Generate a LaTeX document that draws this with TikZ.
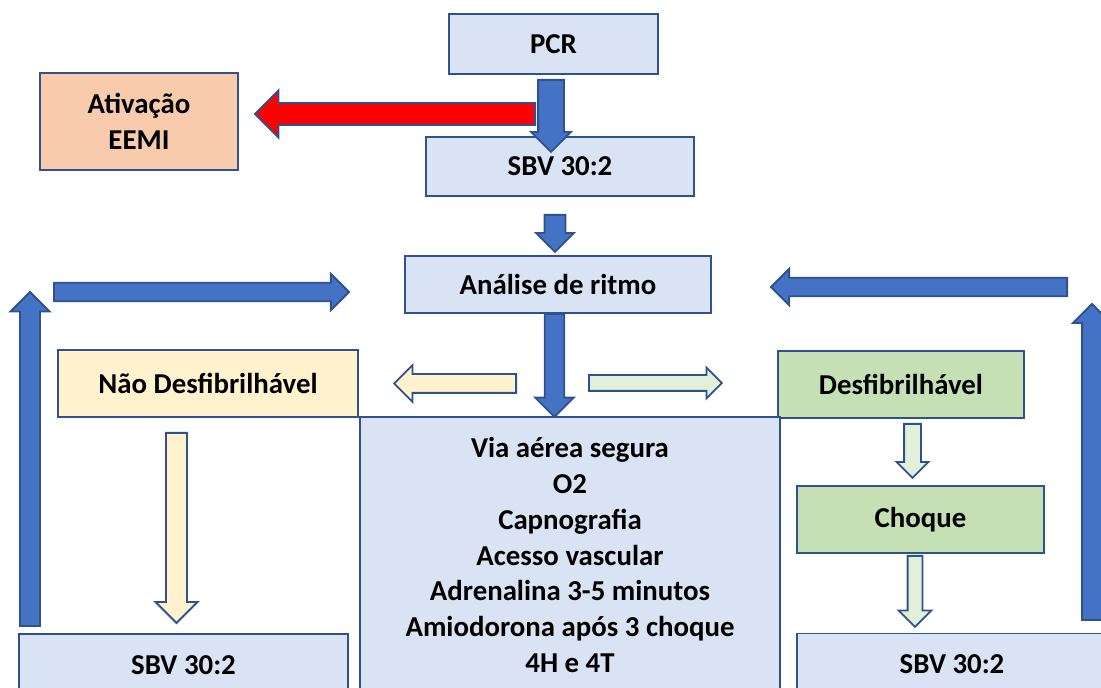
\documentclass[tikz,border=0pt]{standalone}
\usepackage{fontspec}
\setmainfont{Carlito}
\usetikzlibrary{shapes.arrows}

\definecolor{edge}{HTML}{2F528F}
\definecolor{bluearrow}{HTML}{4472C4}
\definecolor{boxblue}{HTML}{DAE3F3}
\definecolor{boxorange}{HTML}{F8CBAD}
\definecolor{boxyellow}{HTML}{FFF2CC}
\definecolor{boxgreen}{HTML}{C5E0B4}
\definecolor{palegreen}{HTML}{E2F0D9}

\begin{document}
\begin{tikzpicture}[x = 0.025cm, y = -0.025cm]
    \useasboundingbox (0, 0) rectangle (1101, 688);
    \clip (0, 0) rectangle (1101, 688);

    \tikzstyle{box} = [rectangle, draw = edge, line width = 1.3pt, inner sep = 0pt, align = center, font = \fontsize{20.5}{25.5}\selectfont\bfseries]
    \tikzstyle{barrow} = [single arrow, draw = edge, line width = 1.3pt, inner xsep = 0pt, single arrow head indent = 0pt, anchor = tail]

    \node[box, fill = boxblue, minimum width = 5.225cm, minimum height = 1.5cm] (pcr) at (553.5, 44) {PCR};
    \node[box, fill = boxorange, minimum width = 4.95cm, minimum height = 2.425cm] (eemi) at (139, 121.5) {Ativação\\EEMI};
    \node[box, fill = boxblue, minimum width = 6.7cm, minimum height = 1.475cm] (sbv) at (560, 166.5) {SBV 30:2};
    \node[box, fill = boxblue, minimum width = 7.65cm, minimum height = 1.425cm] (ritmo) at (558, 284.5) {Análise de ritmo};
    \node[box, fill = boxyellow, minimum width = 7.5cm, minimum height = 1.675cm] (naodesf) at (208, 383.5) {Não Desfibrilhável};
    \node[box, fill = boxgreen, minimum width = 6.15cm, minimum height = 1.675cm] (desf) at (901, 384.5) {Desfibrilhável};
    \node[box, fill = boxblue, minimum width = 10.5cm, minimum height = 6.9cm] (cuidados) at (570, 555)
        {Via aérea segura\\O2\\Capnografia\\Acesso vascular\\Adrenalina 3-5 minutos\\Amiodorona após 3 choque\\4H e 4T};
    \node[box, fill = boxgreen, minimum width = 6.175cm, minimum height = 1.675cm] (choque) at (920.5, 519.5) {Choque};
    \node[box, fill = boxblue, minimum width = 8.225cm, minimum height = 1.55cm] (sbvl) at (183.5, 665) {SBV 30:2};
    \node[box, fill = boxblue, minimum width = 7.75cm, minimum height = 1.55cm] (sbvr) at (952, 664.5) {SBV 30:2};

    \node[barrow, fill = red, rotate = 180, minimum height = 7cm, inner ysep = 0.25cm, single arrow head extend = 0.3125cm] (alerta) at (536, 114) {};
    \node[barrow, fill = bluearrow, rotate = -90, minimum height = 1.8cm, inner ysep = 0.3cm, single arrow head extend = 0.175cm] (ab) at (551, 79) {};
    \node[barrow, fill = bluearrow, rotate = -90, minimum height = 0.925cm, inner ysep = 0.24cm, single arrow head extend = 0.21cm] (bc) at (555, 214) {};
    \node[barrow, fill = bluearrow, rotate = -90, minimum height = 2.575cm, inner ysep = 0.22cm, single arrow head extend = 0.24cm] (cd) at (554.5, 313) {};

    \node[barrow, fill = boxyellow, rotate = 180, minimum height = 3.05cm, inner ysep = 0.2125cm, single arrow head extend = 0.225cm] (paranao) at (517, 383.5) {};
    \node[barrow, fill = palegreen, minimum height = 3.325cm, inner ysep = 0.175cm, single arrow head extend = 0.1875cm] (paradesf) at (588, 383) {};
    \node[barrow, fill = boxyellow, rotate = -90, minimum height = 4.75cm, inner ysep = 0.2375cm, single arrow head extend = 0.2625cm] (naosbv) at (176.5, 432) {};
    \node[barrow, fill = palegreen, rotate = -90, minimum height = 1.35cm, inner ysep = 0.1875cm, single arrow head extend = 0.1875cm] (desfchoque) at (912.5, 423) {};
    \node[barrow, fill = palegreen, rotate = -90, minimum height = 1.775cm, inner ysep = 0.1625cm, single arrow head extend = 0.225cm] (choquesbv) at (915, 555) {};

    \node[barrow, fill = bluearrow, rotate = 90, minimum height = 8.35cm, inner ysep = 0.225cm, single arrow head extend = 0.2375cm] (voltal) at (30, 627) {};
    \node[barrow, fill = bluearrow, minimum height = 7.375cm, inner ysep = 0.21cm, single arrow head extend = 0.22cm] (topol) at (53, 292) {};
    \node[barrow, fill = bluearrow, rotate = 90, minimum height = 7.9cm, inner ysep = 0.225cm, single arrow head extend = 0.225cm] (voltar) at (1092, 621) {};
    \node[barrow, fill = bluearrow, rotate = 180, minimum height = 7.4cm, inner ysep = 0.21cm, single arrow head extend = 0.22cm] (topor) at (1068, 287) {};
\end{tikzpicture}
\end{document}
